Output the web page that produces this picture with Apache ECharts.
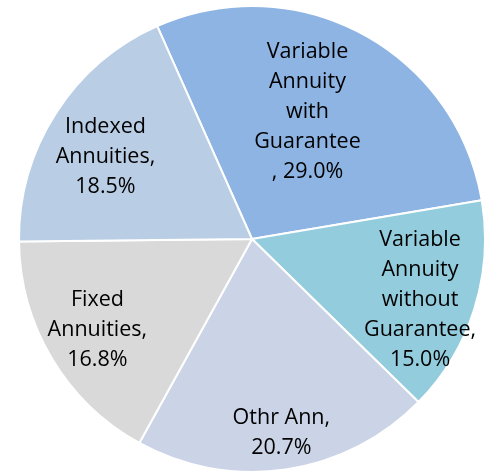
<!DOCTYPE html>
<html>
<head>
<meta charset="utf-8">
<script src="https://cdn.jsdelivr.net/npm/echarts@6/dist/echarts.min.js"></script>
<style>
  html, body { margin: 0; padding: 0; background: #fff; }
  #chart { width: 488px; height: 476px; }
</style>
</head>
<body>
<div id="chart"></div>
<script>
// 数据
var categories = ["Variable Annuity with Guarantee", "Variable Annuity without Guarantee", "Othr Ann", "Fixed Annuities", "Indexed Annuities"];
// label text as wrapped in the original
var labelNames = ["Variable\nAnnuity\nwith\nGuarantee\n, ", "Variable\nAnnuity\nwithout\nGuarantee,\n", "Othr Ann,\n", "Fixed\nAnnuities,\n", "Indexed\nAnnuities,\n"];
var shares = [29.0, 15.0, 20.7, 16.8, 18.5];

var colors = ["#8EB4E3", "#93CDDD", "#CBD4E6", "#D9D9D9", "#B9CDE5"];
// 标签偏移
var labelOffsets = [[-1, -22], [54, 25], [12, 76], [-52, 30], [-46, -18]];

var chart = echarts.init(document.getElementById("chart"));

var pieData = [];
for (var i = 0; i < categories.length; i++) {
  pieData.push({
    name: categories[i],
    value: shares[i],
    itemStyle: { color: colors[i] },
    label: { offset: labelOffsets[i] }
  });
}

chart.setOption({
  animation: false,
  series: [
    {
      type: "pie",
      center: [252, 239],
      radius: 233,
      startAngle: 114,
      clockwise: true,
      data: pieData,
      itemStyle: {
        borderColor: "#fff",
        borderWidth: 2
      },
      label: {
        show: true,
        position: "inside",
        fontFamily: "Open Sans",
        fontSize: 21.5,
        lineHeight: 30,
        color: "#000",
        align: "center",
        formatter: function (p) {
          return labelNames[p.dataIndex] + shares[p.dataIndex].toFixed(1) + "%";
        }
      },
      labelLine: { show: false },
      emphasis: { disabled: true }
    }
  ]
});
</script>
</body>
</html>
